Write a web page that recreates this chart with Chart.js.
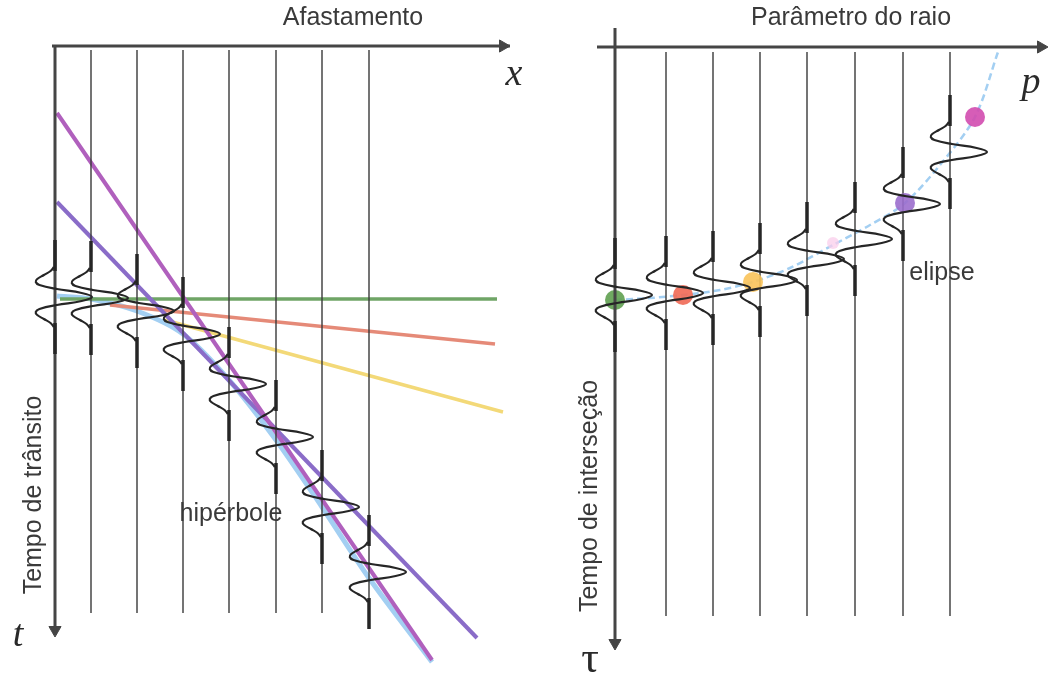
<!DOCTYPE html>
<html><head><meta charset="utf-8">
<script src="https://cdn.jsdelivr.net/npm/chart.js@4.4.1/dist/chart.umd.min.js"></script>
<style>html,body{margin:0;padding:0;background:#fff;overflow:hidden}#wrap{width:1050px;height:679px;position:relative}canvas{display:block}</style>
</head><body><div id="wrap"><canvas id="c" width="1050" height="679"></canvas></div>
<script>
// ---------- LEFT PANEL: offset x vs transit time t (panel units) ----------
const leftTraceOffsets = [0, 36, 82, 128, 174, 221, 267, 314];
const leftEventTimes   = [251, 252, 265, 288, 338, 391, 461, 526];
const leftTraceSpan    = [4, 567];
const hyperbolaX = [2, 36, 82, 128, 174, 221, 267, 314, 377];
const hyperbolaT = [250, 253, 265, 288, 334, 394, 461, 532, 616];
const greenLineX = [5, 442],   greenLineT = [253, 253];
const redLineX   = [55, 440],  redLineT   = [259, 298];
const yellowLineX= [110, 448], yellowLineT= [274, 366];
const magentaLineX=[2, 377],   magentaLineT=[67, 614];
const violetLineX= [2, 422],   violetLineT= [156, 592];

// ---------- RIGHT PANEL: ray parameter p vs intercept time tau ----------
const rightTraceP    = [0, 51, 98, 145, 192, 240, 288, 335];
const rightEventTau  = [248, 246, 241, 233, 212, 192, 157, 105];
const rightTraceSpan = [5, 569];
const ellipseP   = [0, 35, 68, 105, 138, 175, 218, 255, 290, 325, 360, 383];
const ellipseTau = [253, 251, 248, 243, 235, 221, 198, 178, 156, 118, 70, 5];
const dotP   = [0, 68, 138, 218, 290, 360];
const dotTau = [253, 248, 235, 196, 156, 70];
const dotColors = ['rgba(95,160,80,0.9)','rgba(240,105,85,0.9)','rgba(250,195,90,0.9)','rgba(250,205,235,0.75)','rgba(155,110,205,0.9)','rgba(210,75,175,0.9)'];
const dotRadius = [10, 10, 10, 6, 10, 10];

// wavelet template (time offset, relative amplitude)
const waveletDt  = [-30,-26,-22,-18,-15,-12,-8,-4,0,4,8,12,15,18,22,26,30];
const waveletAmp = [-0.03,-0.12,-0.3,-0.48,-0.52,-0.42,0.05,0.72,1,0.72,0.05,-0.42,-0.52,-0.48,-0.3,-0.12,-0.03];
const waveletPeak = 37;
const stubRange = [26, 57];

// texts
const labels = {
  leftTitle: 'Afastamento', rightTitle: 'Parâmetro do raio',
  leftAxis: 'Tempo de trânsito', rightAxis: 'Tempo de interseção',
  hyper: 'hipérbole', ellipse: 'elipse', x: 'x', t: 't', p: 'p', tau: 'τ'
};

const pts = (xs, ys) => xs.map((v, i) => ({x: v, y: ys[i]}));
const AX = '#454545', TR = '#3a3a3a', WV = '#262626';
const ds = [];
function line(data, color, width, side, order, extra) {
  ds.push(Object.assign({data, showLine: true, borderColor: color, backgroundColor: color,
    borderWidth: width, pointRadius: 0, tension: 0, order,
    xAxisID: side === 'L' ? 'x' : 'x2', yAxisID: side === 'L' ? 'y' : 'y2'}, extra || {}));
}
function panel(side, offs, times, span) {
  offs.forEach((o, i) => {
    if (i > 0) line(pts([o, o], span), TR, 1.4, side, 3);
    const t0 = times[i];
    line(pts(waveletAmp.map(a => o + a * waveletPeak), waveletDt.map(d => t0 + d)), WV, 2.2, side, 0, {tension: 0.4});
    line(pts([o, o], [t0 - stubRange[1], t0 - stubRange[0]]), WV, 3.5, side, 0);
    line(pts([o, o], [t0 + stubRange[0], t0 + stubRange[1]]), WV, 3.5, side, 0);
  });
}
// colored lines (under the black)
line(pts(violetLineX, violetLineT), '#8a6cc8', 4, 'L', 5);
line(pts(yellowLineX, yellowLineT), '#f3d978', 3.5, 'L', 5);
line(pts(redLineX, redLineT), '#e58a78', 3.5, 'L', 5);
line(pts(greenLineX, greenLineT), '#6fa566', 3.5, 'L', 5);
line(pts(hyperbolaX, hyperbolaT), '#a3cff2', 5, 'L', 6, {tension: 0.3});
line(pts(magentaLineX, magentaLineT), '#b060bd', 4, 'L', 4);
line(pts(ellipseP, ellipseTau), '#a3cff2', 2.5, 'R', 6, {tension: 0.3, borderDash: [7, 4]});
panel('L', leftTraceOffsets, leftEventTimes, leftTraceSpan);
panel('R', rightTraceP, rightEventTau, rightTraceSpan);
// dots
ds.push({data: pts(dotP, dotTau), showLine: false, pointRadius: dotRadius, pointBackgroundColor: dotColors,
  pointBorderWidth: 0, order: 1, xAxisID: 'x2', yAxisID: 'y2'});
// axes with arrowheads
line(pts([-3, 455], [0, 0]), AX, 3, 'L', 0);
line(pts([0, 0], [0, 588]), AX, 3, 'L', 0);
line(pts([-18, 430], [0, 0]), AX, 3, 'R', 0);
line(pts([0, 0], [-19, 598]), AX, 3, 'R', 0);
ds.push({data: [{x: 448, y: 0}], showLine: false, pointStyle: 'triangle', pointRadius: 7, pointRotation: 90,
  pointBackgroundColor: AX, pointBorderColor: AX, order: 0, xAxisID: 'x', yAxisID: 'y'});
ds.push({data: [{x: 0, y: 584}], showLine: false, pointStyle: 'triangle', pointRadius: 7, pointRotation: 180,
  pointBackgroundColor: AX, pointBorderColor: AX, order: 0, xAxisID: 'x', yAxisID: 'y'});
ds.push({data: [{x: 426, y: 0}], showLine: false, pointStyle: 'triangle', pointRadius: 7, pointRotation: 90,
  pointBackgroundColor: AX, pointBorderColor: AX, order: 0, xAxisID: 'x2', yAxisID: 'y2'});
ds.push({data: [{x: 0, y: 596}], showLine: false, pointStyle: 'triangle', pointRadius: 7, pointRotation: 180,
  pointBackgroundColor: AX, pointBorderColor: AX, order: 0, xAxisID: 'x2', yAxisID: 'y2'});

const textPlugin = {
  id: 'texts',
  afterDraw(chart) {
    const c = chart.ctx, s = chart.scales;
    const L = (x, y) => [s.x.getPixelForValue(x), s.y.getPixelForValue(y)];
    const R = (x, y) => [s.x2.getPixelForValue(x), s.y2.getPixelForValue(y)];
    c.save();
    c.fillStyle = '#3a3a3a';
    c.textAlign = 'center'; c.textBaseline = 'middle';
    c.font = '25px "Liberation Sans", Arial, sans-serif';
    let p = L(298, -28); c.fillText(labels.leftTitle, p[0], p[1]);
    p = R(236, -29); c.fillText(labels.rightTitle, p[0], p[1]);
    p = L(176, 468); c.fillText(labels.hyper, p[0], p[1]);
    p = R(327, 226); c.fillText(labels.ellipse, p[0], p[1]);
    p = L(-21, 449); c.save(); c.translate(p[0], p[1]); c.rotate(-Math.PI / 2); c.fillText(labels.leftAxis, 0, 0); c.restore();
    p = R(-25, 449); c.save(); c.translate(p[0], p[1]); c.rotate(-Math.PI / 2); c.fillText(labels.rightAxis, 0, 0); c.restore();
    c.fillStyle = '#2a2a2a';
    c.font = 'italic 38px "Liberation Serif", "Times New Roman", serif';
    p = L(459, 29); c.fillText(labels.x, p[0], p[1]);
    p = L(-37, 590); c.fillText(labels.t, p[0], p[1]);
    p = R(416, 36); c.fillText(labels.p, p[0], p[1]);
    c.font = '44px "Liberation Serif", "Times New Roman", serif';
    p = R(-25, 613); c.fillText(labels.tau, p[0], p[1]);
    c.restore();
  }
};

new Chart(document.getElementById('c'), {
  type: 'scatter',
  data: {datasets: ds},
  options: {
    responsive: false, animation: false, devicePixelRatio: 1, events: [],
    layout: {padding: 0, autoPadding: false},
    plugins: {legend: {display: false}, tooltip: {enabled: false}, title: {display: false}},
    scales: {
      x:  {type: 'linear', axis: 'x', display: false, min: -55, max: 995},
      y:  {type: 'linear', axis: 'y', display: false, min: -46, max: 633, reverse: true},
      x2: {type: 'linear', axis: 'x', display: false, min: -615, max: 435},
      y2: {type: 'linear', axis: 'y', display: false, min: -47, max: 632, reverse: true}
    }
  },
  plugins: [textPlugin]
});
</script></body></html>
